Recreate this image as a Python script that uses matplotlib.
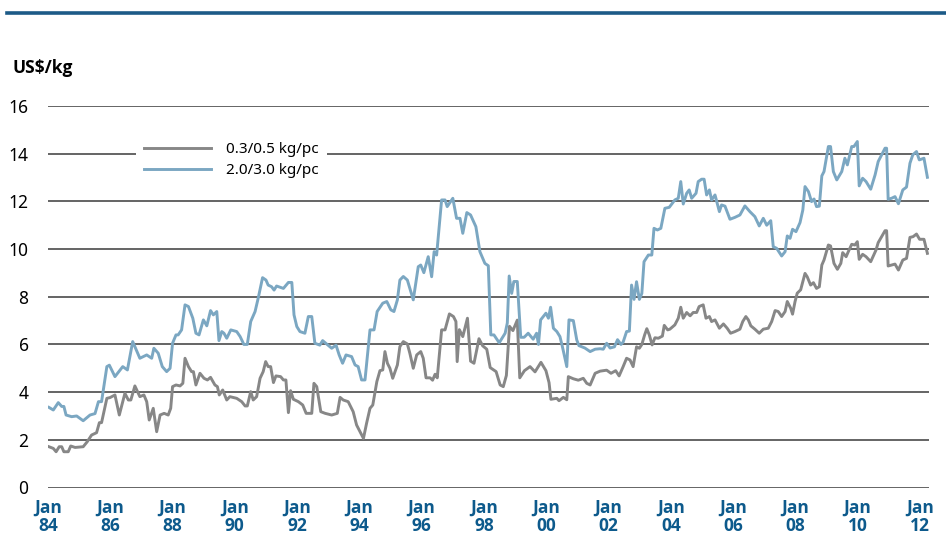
import numpy as np
import matplotlib.pyplot as plt
from matplotlib.lines import Line2D

plt.rcParams['font.family'] = ['Noto Sans', 'DejaVu Sans']
bold_font = ['Open Sans', 'Lato', 'DejaVu Sans']

# price series, time in years since Jan 1984
t_fine = [0.03, 0.17, 0.26, 0.36, 0.44, 0.51, 0.65, 0.73, 0.87, 1.13, 1.26, 1.40, 1.56, 1.65, 1.72,
          1.89, 1.99, 2.15, 2.29, 2.47, 2.58, 2.66, 2.79, 2.95, 3.08, 3.17, 3.25, 3.38, 3.49, 3.60,
          3.73, 3.86, 3.94, 4.00, 4.11, 4.24, 4.33, 4.40, 4.51, 4.61, 4.67, 4.75, 4.88, 5.01, 5.12,
          5.22, 5.36, 5.44, 5.50, 5.61, 5.74, 5.84, 6.06, 6.22, 6.33, 6.40, 6.51, 6.59, 6.70, 6.81,
          6.91, 6.99, 7.07, 7.15, 7.24, 7.32, 7.47, 7.56, 7.64, 7.72, 7.79, 7.88, 8.04, 8.18, 8.29,
          8.47, 8.54, 8.63, 8.76, 8.90, 9.11, 9.29, 9.38, 9.48, 9.64, 9.80, 9.91, 10.02, 10.13, 10.23,
          10.34, 10.43, 10.56, 10.66, 10.75, 10.82, 10.90, 10.98, 11.07, 11.22, 11.30, 11.41, 11.54,
          11.62, 11.73, 11.84, 11.97, 12.05, 12.14, 12.27, 12.35, 12.43, 12.50, 12.64, 12.75, 12.89,
          13.02, 13.10, 13.14, 13.21, 13.32, 13.47, 13.57, 13.68, 13.84, 13.96, 14.09, 14.20, 14.39,
          14.52, 14.62, 14.72, 14.82, 14.93, 15.07, 15.15, 15.30, 15.48, 15.64, 15.83, 15.99, 16.09,
          16.15, 16.34, 16.41, 16.55, 16.66, 16.71, 16.87, 17.03, 17.19, 17.30, 17.41, 17.57, 17.73,
          17.94, 18.08, 18.23, 18.34, 18.47, 18.58, 18.69, 18.79, 18.90, 18.99, 19.07, 19.16, 19.23,
          19.31, 19.40, 19.49, 19.60, 19.73, 19.79, 19.90, 19.97, 20.13, 20.24, 20.32, 20.40, 20.51,
          20.62, 20.72, 20.83, 20.91, 21.04, 21.13, 21.24, 21.31, 21.42, 21.56, 21.69, 21.81, 21.92,
          22.06, 22.22, 22.31, 22.41, 22.49, 22.57, 22.70, 22.84, 22.97, 23.13, 23.24, 23.35, 23.45,
          23.56, 23.67, 23.74, 23.85, 23.91, 23.99, 24.06, 24.17, 24.31, 24.38, 24.49, 24.58, 24.68,
          24.77, 24.85, 24.92, 25.06, 25.13, 25.24, 25.35, 25.46, 25.52, 25.63, 25.70, 25.81, 25.91,
          25.99, 26.05, 26.16, 26.27, 26.42, 26.59, 26.66, 26.77, 26.88, 26.93, 26.98, 27.09, 27.20,
          27.31, 27.45, 27.57, 27.68, 27.78, 27.89, 27.99, 28.13, 28.24]
fine = [1.71, 1.64, 1.50, 1.71, 1.71, 1.50, 1.50, 1.74, 1.68, 1.71, 1.92, 2.20, 2.30, 2.72, 2.72,
        3.74, 3.77, 3.88, 3.04, 3.95, 3.67, 3.67, 4.26, 3.81, 3.88, 3.60, 2.83, 3.32, 2.34, 3.04,
        3.11, 3.04, 3.32, 4.23, 4.30, 4.26, 4.37, 5.42, 5.07, 4.86, 4.86, 4.30, 4.79, 4.58, 4.51,
        4.62, 4.30, 4.23, 3.88, 4.09, 3.67, 3.81, 3.74, 3.60, 3.42, 3.42, 4.02, 3.67, 3.81, 4.58,
        4.86, 5.28, 5.07, 5.07, 4.40, 4.68, 4.65, 4.51, 4.51, 3.14, 4.06, 3.70, 3.60, 3.46, 3.11,
        3.11, 4.37, 4.23, 3.18, 3.11, 3.04, 3.11, 3.78, 3.67, 3.60, 3.18, 2.62, 2.34, 2.06, 2.69,
        3.32, 3.46, 4.44, 4.90, 4.93, 5.70, 5.21, 5.00, 4.58, 5.14, 5.91, 6.12, 6.02,
        5.63, 5.00, 5.56, 5.70, 5.42, 4.60, 4.60, 4.50, 4.75, 4.60, 6.61, 6.61, 7.28,
        7.17, 6.96, 5.28, 6.62, 6.33, 7.10, 5.30, 5.21, 6.24, 5.94, 5.80, 5.03, 4.86,
        4.30, 4.23, 4.70, 6.76, 6.58, 7.02, 4.60, 4.90, 5.07, 4.85, 5.25, 4.90, 4.40,
        3.70, 3.74, 3.64, 3.78, 3.68, 4.65, 4.56, 4.50, 4.58, 4.37, 4.30, 4.79, 4.88,
        4.92, 4.79, 4.90, 4.68, 5.07, 5.42, 5.35, 5.07, 5.90, 5.84, 6.00, 6.40, 6.66,
        6.40, 5.98, 6.28, 6.26, 6.35, 6.80, 6.61, 6.64, 6.82, 7.10, 7.56, 7.10, 7.34,
        7.20, 7.34, 7.34, 7.59, 7.66, 7.10, 7.17, 6.96, 7.03, 6.68, 6.86, 6.68, 6.47,
        6.54, 6.64, 6.96, 7.17, 7.03, 6.78, 6.64, 6.47, 6.64, 6.68, 6.96, 7.42, 7.38,
        7.17, 7.38, 7.80, 7.52, 7.27, 7.80, 8.15, 8.29, 8.98, 8.84, 8.49, 8.59, 8.35,
        8.42, 9.33, 9.54, 10.17, 10.13, 9.40, 9.15, 9.40, 9.85, 9.68, 9.89, 10.20, 10.17,
        10.31, 9.57, 9.78, 9.68, 9.47, 9.96, 10.27, 10.52, 10.77, 10.77, 9.29, 9.33, 9.37,
        9.12, 9.54, 9.61, 10.49, 10.52, 10.63, 10.41, 10.41, 9.82]

t_coarse = [0.03, 0.17, 0.33, 0.44, 0.51, 0.58, 0.76, 0.92, 1.13, 1.35, 1.51, 1.62, 1.72, 1.89, 1.97,
            2.15, 2.40, 2.55, 2.72, 2.95, 3.17, 3.33, 3.40, 3.54, 3.67, 3.81, 3.92, 4.00, 4.11, 4.18,
            4.29, 4.40, 4.51, 4.65, 4.75, 4.85, 4.99, 5.10, 5.22, 5.31, 5.42, 5.49, 5.58, 5.65, 5.74,
            5.87, 6.06, 6.17, 6.29, 6.40, 6.51, 6.65, 6.75, 6.89, 7.00, 7.07, 7.18, 7.26, 7.34, 7.56,
            7.72, 7.83, 7.90, 7.99, 8.09, 8.25, 8.36, 8.47, 8.57, 8.73, 8.82, 9.11, 9.25, 9.35, 9.46,
            9.57, 9.75, 9.86, 9.96, 10.07, 10.18, 10.34, 10.47, 10.57, 10.75, 10.88, 11.01, 11.11,
            11.22, 11.30, 11.41, 11.54, 11.73, 11.89, 11.97, 12.07, 12.21, 12.32, 12.40, 12.48,
            12.64, 12.75, 12.82, 13.00, 13.12, 13.23, 13.32, 13.45, 13.57, 13.74, 13.87, 14.03,
            14.14, 14.22, 14.32, 14.49, 14.68, 14.75, 14.81, 14.89, 14.96, 15.07, 15.18, 15.29,
            15.42, 15.58, 15.69, 15.75, 15.82, 15.99, 16.07, 16.14, 16.23, 16.34, 16.44, 16.52,
            16.66, 16.73, 16.87, 16.98, 17.05, 17.24, 17.41, 17.57, 17.73, 17.83, 17.94, 18.05,
            18.19, 18.29, 18.40, 18.47, 18.58, 18.67, 18.74, 18.82, 18.90, 18.99, 19.07, 19.14,
            19.28, 19.39, 19.46, 19.57, 19.68, 19.81, 19.95, 20.13, 20.24, 20.32, 20.40, 20.51,
            20.59, 20.67, 20.81, 20.88, 20.99, 21.07, 21.15, 21.24, 21.31, 21.42, 21.56, 21.63,
            21.74, 21.90, 22.06, 22.22, 22.38, 22.54, 22.70, 22.84, 22.97, 23.08, 23.21, 23.29,
            23.40, 23.56, 23.67, 23.74, 23.83, 23.91, 24.02, 24.15, 24.24, 24.31, 24.42, 24.52,
            24.60, 24.68, 24.77, 24.85, 24.92, 25.06, 25.13, 25.22, 25.33, 25.49, 25.59, 25.67,
            25.81, 25.88, 25.99, 26.05, 26.16, 26.27, 26.42, 26.56, 26.66, 26.77, 26.88, 26.93,
            26.98, 27.09, 27.20, 27.31, 27.45, 27.57, 27.68, 27.77, 27.89, 27.98, 28.13, 28.24]
coarse = [3.36, 3.25, 3.56, 3.40, 3.40, 3.04, 2.97, 3.00, 2.80, 3.04, 3.10, 3.60, 3.60, 5.07, 5.13,
          4.65, 5.07, 4.93, 6.12, 5.42, 5.56, 5.42, 5.84, 5.63, 5.07, 4.86, 5.00, 6.05, 6.40, 6.40,
          6.61, 7.66, 7.59, 7.10, 6.47, 6.40, 7.03, 6.78, 7.42, 7.24, 7.38, 6.16, 6.54, 6.47, 6.26,
          6.61, 6.54, 6.33, 6.00, 6.00, 6.96, 7.38, 7.94, 8.80, 8.70, 8.49, 8.42, 8.28, 8.45, 8.35,
          8.60, 8.60, 7.24, 6.75, 6.54, 6.47, 7.17, 7.17, 6.05, 5.97, 6.16, 5.84, 5.97, 5.56, 5.21,
          5.56, 5.49, 5.14, 5.07, 4.51, 4.51, 6.61, 6.61, 7.38, 7.73, 7.80, 7.45, 7.38,
          7.87, 8.70, 8.85, 8.70, 7.87, 9.26, 9.33, 9.01, 9.68, 8.84, 9.89, 9.75,
          12.06, 12.06, 11.78, 12.13, 11.29, 11.29, 10.66, 11.53, 11.43, 10.94, 9.89, 9.40,
          9.30, 6.40, 6.40, 6.07, 6.47, 6.90, 8.87, 8.14, 8.64, 8.64, 6.30, 6.30,
          6.47, 6.22, 6.47, 6.00, 7.03, 7.31, 7.10, 7.56, 6.68, 6.54, 6.33, 5.90,
          5.07, 7.03, 7.00, 6.19, 5.95, 5.85, 5.70, 5.80, 5.82, 5.80, 6.05, 5.85,
          5.90, 6.20, 6.00, 6.10, 6.54, 6.56, 8.49, 7.89, 8.63, 7.89, 8.14, 9.47,
          9.75, 9.75, 10.87, 10.80, 10.87, 11.71, 11.75, 12.06, 12.13, 12.83, 11.89, 12.34,
          12.48, 12.13, 12.34, 12.83, 12.93, 12.93, 12.27, 12.48, 12.06, 12.27, 11.57, 11.85,
          11.80, 11.25, 11.33, 11.43, 11.81, 11.57, 11.36, 10.97, 11.29, 11.00, 11.19, 10.10,
          10.03, 9.71, 9.89, 10.55, 10.45, 10.83, 10.73, 11.11, 11.64, 12.62, 12.41, 11.99,
          12.10, 11.78, 11.80, 13.07, 13.25, 14.30, 14.30, 13.25, 12.90, 13.25, 13.81, 13.53,
          14.30, 14.30, 14.51, 12.65, 12.97, 12.83, 12.51, 13.11, 13.67, 13.95, 14.23, 14.23,
          12.09, 12.13, 12.20, 11.90, 12.48, 12.60, 13.60, 13.95, 14.09, 13.74, 13.81, 13.01]

labels = ['0.3/0.5 kg/pc', '2.0/3.0 kg/pc']
tick_years = list(range(1984, 2013, 2))
tick_labels = ['Jan\n%02d' % (y % 100) for y in tick_years]

gray = '#878787'
blue = '#7ba7c2'
navy = '#0d5a8c'

fig = plt.figure(figsize=(9.46, 5.41), dpi=100)
ax = fig.add_axes([48 / 946, 1 - 487.5 / 541, (929 - 48) / 946, (487.5 - 106) / 541])

for y in range(0, 17, 2):
    ax.axhline(y, color='#3a3a3a', lw=1.1, zorder=1)

ax.plot(1984 + np.array(t_fine), fine, color=gray, lw=2.1, zorder=3)
ax.plot(1984 + np.array(t_coarse), coarse, color=blue, lw=2.1, zorder=3)

ax.set_xlim(1984, 1984 + 881 / 31.14)
ax.set_ylim(0, 16)
ax.set_yticks(range(0, 17, 2))
ax.set_xticks(tick_years)
ax.set_xticklabels(tick_labels, color=navy, fontweight='bold', family=bold_font,
                   fontsize=12.5, linespacing=1.0)
ax.tick_params(axis='x', length=0, pad=8)
ax.tick_params(axis='y', length=0, pad=14, labelsize=12.5)
for s in ax.spines.values():
    s.set_visible(False)

handles = [Line2D([], [], color=gray, lw=2.1), Line2D([], [], color=blue, lw=2.1)]
leg = ax.legend(handles, labels, loc='upper left', bbox_to_anchor=(0.1, 0.925),
                frameon=True, fancybox=False, edgecolor='none', facecolor='white', framealpha=1,
                fontsize=11, handlelength=4.4, handletextpad=1.0, labelspacing=0.4,
                borderpad=0.5, borderaxespad=0)
leg.set_zorder(4)

fig.text(12 / 946, 1 - 68 / 541, 'US$/kg', fontsize=12.5, fontweight='bold', family=bold_font,
         va='center')
fig.add_artist(Line2D([7 / 946, 1], [1 - 12.5 / 541] * 2, color='#1c5a87', lw=2.6))

fig.savefig('out.png', dpi=100)
